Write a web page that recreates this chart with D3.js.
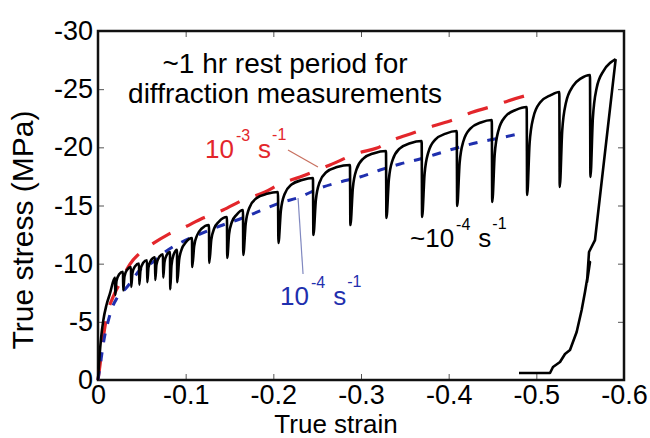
<!DOCTYPE html>
<html>
<head>
<meta charset="utf-8">
<script src="https://cdn.jsdelivr.net/npm/d3@7"></script>
<style>
  body { margin: 0; background: #fff; }
  text { font-family: "Liberation Sans", Arial, Helvetica, sans-serif; }
  .tick line { stroke: #555; stroke-width: 1; }
  .tick text { font-size: 27px; fill: #000; }
</style>
</head>
<body>
<div id="chart"></div>
<script>
// tick values (strain on x, stress on y, both negative = compression)
const strainTicks = [0, -0.1, -0.2, -0.3, -0.4, -0.5, -0.6];
const stressTicks = [0, -5, -10, -15, -20, -25, -30];

// black measured curve: loading with relaxation drops (strain, stress MPa)
const blackLoading = [
  [0, 0], [-0.0017, -2.0], [-0.0035, -3.6], [-0.006, -5.1], [-0.0095, -6.4], [-0.0135, -7.4], [-0.0194, -8.8],
  [-0.0197, -7.3], [-0.0211, -8.5], [-0.0239, -9.06], [-0.0285, -9.3],
  [-0.0288, -7.7], [-0.0302, -8.9], [-0.033, -9.46], [-0.0376, -9.7],
  [-0.0379, -8.0], [-0.0393, -9.2], [-0.0421, -9.76], [-0.0468, -10.0],
  [-0.0471, -8.2], [-0.0485, -9.46], [-0.0513, -10.05], [-0.0559, -10.3],
  [-0.0562, -8.4], [-0.0576, -9.69], [-0.0604, -10.29], [-0.065, -10.55],
  [-0.0653, -8.6], [-0.0667, -9.92], [-0.0695, -10.54], [-0.0741, -10.8],
  [-0.0744, -8.8], [-0.0758, -10.12], [-0.0783, -10.74], [-0.0821, -11.0],
  [-0.0824, -7.8], [-0.0838, -9.84], [-0.0863, -10.79], [-0.0901, -11.2],
  [-0.0904, -8.4], [-0.0925, -10.3], [-0.0955, -11.25], [-0.1, -11.82], [-0.1072, -12.2],
  [-0.1075, -9.71], [-0.1097, -11.52], [-0.113, -12.43], [-0.118, -13.0], [-0.1266, -13.33],
  [-0.1269, -10.06], [-0.1292, -12.04], [-0.1325, -13.02], [-0.138, -13.62], [-0.1471, -14.01],
  [-0.1474, -10.49], [-0.1495, -12.55], [-0.1527, -13.58], [-0.158, -14.2], [-0.1654, -14.61],
  [-0.1657, -10.75], [-0.1685, -13.46], [-0.1727, -14.81], [-0.1807, -15.62], [-0.1927, -16.0], [-0.2053, -16.16],
  [-0.2058, -11.78], [-0.2086, -14.57], [-0.2128, -15.97], [-0.2208, -16.8], [-0.2328, -17.19], [-0.2452, -17.36],
  [-0.2457, -12.46], [-0.2485, -15.47], [-0.2527, -16.98], [-0.2607, -17.88], [-0.2727, -18.3], [-0.2874, -18.48],
  [-0.2879, -13.32], [-0.2907, -16.5], [-0.2949, -18.1], [-0.3029, -19.05], [-0.3149, -19.5], [-0.3285, -19.69],
  [-0.329, -13.93], [-0.3318, -17.24], [-0.336, -18.9], [-0.344, -19.89], [-0.356, -20.35], [-0.3692, -20.55],
  [-0.3697, -14.01], [-0.3725, -17.7], [-0.3767, -19.55], [-0.3847, -20.66], [-0.3967, -21.18], [-0.4092, -21.40],
  [-0.4097, -14.96], [-0.4125, -18.66], [-0.4167, -20.5], [-0.4247, -21.61], [-0.4367, -22.13], [-0.4492, -22.35],
  [-0.4497, -15.30], [-0.4525, -19.39], [-0.4567, -21.43], [-0.4647, -22.65], [-0.4767, -23.22], [-0.489, -23.47],
  [-0.4895, -15.90], [-0.4923, -20.33], [-0.4965, -22.55], [-0.5045, -23.87], [-0.5165, -24.49], [-0.5262, -24.76],
  [-0.5267, -16.59], [-0.5295, -21.41], [-0.5337, -23.81], [-0.5417, -25.26], [-0.551, -25.93], [-0.5612, -26.22],
  [-0.5617, -17.45], [-0.5645, -22.52], [-0.5687, -25.06], [-0.5767, -26.58], [-0.5847, -27.29], [-0.5905, -27.59]
];

// black curve: final unloading
const blackUnloading = [
  [-0.5905, -27.59], [-0.5669, -12.03], [-0.5601, -11.0], [-0.5578, -8.42], [-0.5612, -10.14],
  [-0.5555, -7.56], [-0.5517, -6.02], [-0.546, -4.13], [-0.5384, -2.58], [-0.5327, -2.24],
  [-0.527, -1.55], [-0.519, -1.12], [-0.5156, -0.6], [-0.4802, -0.6]
];

// red dashed: continuous test at 1e-3 /s
const red1e3 = [
  [0, 0], [-0.0023, -1.29], [-0.0057, -3.44], [-0.0103, -5.59], [-0.0171, -7.13], [-0.0251, -8.34],
  [-0.0365, -9.97], [-0.0479, -10.92], [-0.057, -11.43], [-0.0787, -12.46], [-0.097, -13.07],
  [-0.1198, -13.93], [-0.1426, -14.61], [-0.1654, -15.47], [-0.1905, -16.16], [-0.2076, -16.85],
  [-0.2304, -17.45], [-0.2646, -18.48], [-0.2966, -19.51], [-0.3182, -19.94], [-0.3365, -20.63],
  [-0.3593, -21.23], [-0.3821, -21.83], [-0.4049, -22.35], [-0.4243, -22.95], [-0.4471, -23.47],
  [-0.4677, -23.99], [-0.4905, -24.5]
];

// blue dashed: continuous test at 1e-4 /s
const blue1e4 = [
  [0, 0], [-0.0034, -1.72], [-0.0068, -3.44], [-0.0114, -4.99], [-0.016, -6.19], [-0.0217, -7.05],
  [-0.0331, -7.99], [-0.0479, -9.46], [-0.0627, -10.14], [-0.0764, -11.0], [-0.0935, -11.78],
  [-0.1163, -12.55], [-0.1391, -13.24], [-0.1619, -13.84], [-0.1847, -14.53], [-0.2076, -15.22],
  [-0.2304, -15.73], [-0.2532, -16.5], [-0.276, -17.02], [-0.2988, -17.45], [-0.3217, -18.05],
  [-0.3445, -18.57], [-0.3673, -19.0], [-0.3901, -19.51], [-0.4129, -20.03], [-0.4357, -20.46],
  [-0.4585, -20.8], [-0.4791, -21.15]
];

const width = 650, height = 438;
const margin = { top: 31, right: 26, bottom: 58, left: 98 };
const plotL = margin.left, plotR = width - margin.right;
const plotT = margin.top, plotB = height - margin.bottom;

const svg = d3.select("#chart").append("svg")
  .attr("width", width)
  .attr("height", height);

const x = d3.scaleLinear().domain([0, -0.6]).range([plotL, plotR]);
const y = d3.scaleLinear().domain([0, -30]).range([plotB, plotT]);

const fmt = d => String(d);

// axes, ticks pointing inwards
svg.append("g")
  .attr("transform", `translate(${plotL},0)`)
  .call(d3.axisLeft(y).tickValues(stressTicks).tickFormat(fmt).tickSizeInner(-6).tickSizeOuter(0).tickPadding(5))
  .call(g => g.select(".domain").remove());

svg.append("g")
  .attr("transform", `translate(0,${plotB})`)
  .call(d3.axisBottom(x).tickValues(strainTicks).tickFormat(fmt).tickSizeInner(-6).tickSizeOuter(0).tickPadding(5))
  .call(g => g.select(".domain").remove());

svg.append("g")
  .attr("transform", `translate(0,${plotT})`)
  .call(d3.axisTop(x).tickValues(strainTicks).tickFormat("").tickSizeInner(-6).tickSizeOuter(0))
  .call(g => g.select(".domain").remove());

svg.append("g")
  .attr("transform", `translate(${plotR},0)`)
  .call(d3.axisRight(y).tickValues(stressTicks).tickFormat("").tickSizeInner(-6).tickSizeOuter(0))
  .call(g => g.select(".domain").remove());

// frame
svg.append("rect")
  .attr("x", plotL).attr("y", plotT)
  .attr("width", plotR - plotL).attr("height", plotB - plotT)
  .attr("fill", "none").attr("stroke", "#111").attr("stroke-width", 2.5);

const smooth = d3.line().x(d => x(d[0])).y(d => y(d[1])).curve(d3.curveMonotoneX);
const straight = d3.line().x(d => x(d[0])).y(d => y(d[1]));

svg.append("path")
  .attr("d", smooth(red1e3))
  .attr("fill", "none").attr("stroke", "#e3262b").attr("stroke-width", 3.2)
  .attr("stroke-dasharray", "21,17");

svg.append("path")
  .attr("d", smooth(blue1e4))
  .attr("fill", "none").attr("stroke", "#1f2fae").attr("stroke-width", 3)
  .attr("stroke-dasharray", "9,10");

svg.append("path")
  .attr("d", smooth(blackLoading))
  .attr("fill", "none").attr("stroke", "#000").attr("stroke-width", 2.6)
  .attr("stroke-linejoin", "round");

svg.append("path")
  .attr("d", straight(blackUnloading))
  .attr("fill", "none").attr("stroke", "#000").attr("stroke-width", 2.6)
  .attr("stroke-linejoin", "round");

// leader lines
svg.append("line")
  .attr("x1", x(-0.2167)).attr("y1", y(-19.77))
  .attr("x2", x(-0.2509)).attr("y2", y(-18.31))
  .attr("stroke", "#c8705f").attr("stroke-width", 1.2);

svg.append("line")
  .attr("x1", x(-0.2282)).attr("y1", y(-15.65))
  .attr("x2", x(-0.2339)).attr("y2", y(-9.11))
  .attr("stroke", "#8088c0").attr("stroke-width", 1.2);

// rate labels with superscripts
function rateLabel(strain, stress, base, exp, color) {
  const t = svg.append("text")
    .attr("x", x(strain)).attr("y", y(stress))
    .attr("fill", color).attr("font-size", 26);
  t.append("tspan").text(base);
  t.append("tspan").attr("dy", -17).attr("dx", 2).attr("font-size", 16).text(exp);
  t.append("tspan").attr("dy", 17).attr("dx", 8).text("s");
  t.append("tspan").attr("dy", -18).attr("dx", 1).attr("font-size", 16).text("-1");
}
rateLabel(-0.122, -19.1, "10", "-3", "#e3262b");
rateLabel(-0.3559, -11.43, "~10", "-4", "#000");
rateLabel(-0.2076, -6.45, "10", "-4", "#1f2fae");

// rest period note
svg.append("text")
  .attr("x", x(-0.2133)).attr("y", y(-26.39))
  .attr("text-anchor", "middle").attr("font-size", 28)
  .text("~1 hr rest period for");
svg.append("text")
  .attr("x", x(-0.2133)).attr("y", y(-23.81))
  .attr("text-anchor", "middle").attr("font-size", 28)
  .text("diffraction measurements");

// axis titles
svg.append("text")
  .attr("x", 336).attr("y", 432.5)
  .attr("text-anchor", "middle").attr("font-size", 26)
  .text("True strain");

svg.append("text")
  .attr("transform", "translate(33,230) rotate(-90)")
  .attr("text-anchor", "middle").attr("font-size", 30)
  .text("True stress (MPa)");
</script>
</body>
</html>
